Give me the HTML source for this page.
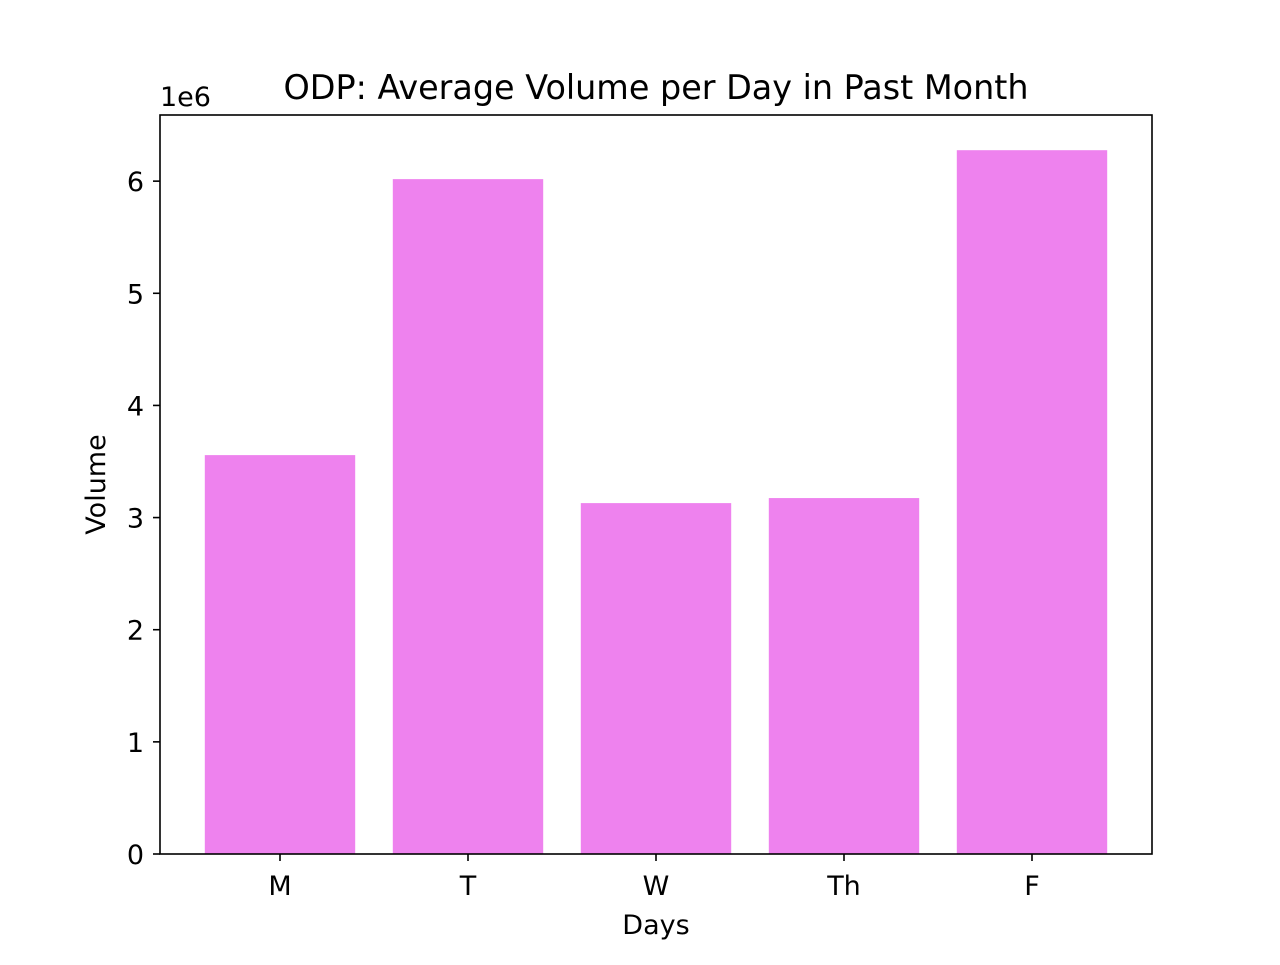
<!DOCTYPE html>
<html><head><meta charset="utf-8"><style>
body{margin:0;background:#fff;}
svg text{font-family:"DejaVu Sans","Liberation Sans",sans-serif;fill:#000;}
</style></head><body>
<svg id="chart" width="1280" height="960"></svg>
<script>
const categories = ["M","T","W","Th","F"];
const volumes = [3.557e6, 6.018e6, 3.129e6, 3.174e6, 6.276e6];
const yTicks = [0,1,2,3,4,5,6];
const NS="http://www.w3.org/2000/svg";
const svg=document.getElementById('chart');
const L=160,R=1152,T=115,B=854;
const yMax=Math.max(...volumes)*1.05/1e6;
const n=categories.length;
const xMin=-0.6-(((R-L)/188)-(n-1+1.2))/2;
const unit=188;
function xs(i){return L+(i-xMin)*unit;}
function ys(v){return B-(v/yMax)*(B-T);}
function mk(tag,attrs,parent){const e=document.createElementNS(NS,tag);for(const k in attrs)e.setAttribute(k,attrs[k]);(parent||svg).appendChild(e);return e;}
categories.forEach((c,i)=>{
  const v=volumes[i]/1e6;
  const b=mk('rect',{x:xs(i-0.4),y:ys(v),width:0.8*unit,height:B-ys(v),fill:'#ee82ee'});
  
  
  const tk=mk('line',{x1:xs(i),x2:xs(i),y1:B,y2:B+7,stroke:'#000','stroke-width':1.6});
  
  
  const t=mk('text',{x:xs(i),y:B+41,'text-anchor':'middle','font-size':27});
  t.textContent=c;
  
  
});
yTicks.forEach(v=>{
  const tk=mk('line',{x1:L-7,x2:L,y1:ys(v),y2:ys(v),stroke:'#000','stroke-width':1.6});
  
  
  const t=mk('text',{x:L-16,y:ys(v)+10,'text-anchor':'end','font-size':27});
  t.textContent=v;
  
  
});
const frame=mk('rect',{x:L,y:T,width:R-L,height:B-T,fill:'none',stroke:'#000','stroke-width':1.6});


const title=mk('text',{x:(L+R)/2,y:99,'text-anchor':'middle','font-size':33.4});
title.textContent='ODP: Average Volume per Day in Past Month';


const off=mk('text',{x:L,y:106,'font-size':27});
off.textContent='1e6';


const xl=mk('text',{x:(L+R)/2,y:934,'text-anchor':'middle','font-size':27});
xl.textContent='Days';


const yl=mk('text',{x:0,y:0,'text-anchor':'middle','font-size':27,transform:'translate(105,'+((T+B)/2)+') rotate(-90)'});
yl.textContent='Volume';


</script>
</body></html>
